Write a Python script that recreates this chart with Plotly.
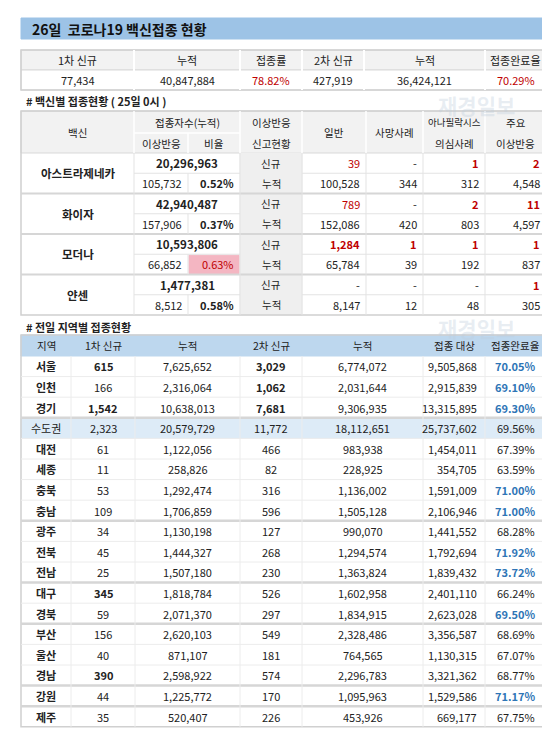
import plotly.graph_objects as go

# ---------------- data ----------------
title_text = "26일  코로나19 백신접종 현황"
top_headers = ["1차 신규", "누적", "접종률", "2차 신규", "누적", "접종완료율"]
top_values = ["77,434", "40,847,884", "78.82%", "427,919", "36,424,121", "70.29%"]

vac_section = "# 백신별 접종현황 ( 25일 0시 )"
vaccines = ["아스트라제네카", "화이자", "모더나", "얀센"]
vac_total = ["20,296,963", "42,940,487", "10,593,806", "1,477,381"]
vac_adverse = ["105,732", "157,906", "66,852", "8,512"]
vac_ratio = ["0.52%", "0.37%", "0.63%", "0.58%"]
new_general = ["39", "789", "1,284", "-"]
new_death = ["-", "-", "1", "-"]
new_anaph = ["1", "2", "1", "-"]
new_major = ["2", "11", "1", "1"]
cum_general = ["100,528", "152,086", "65,784", "8,147"]
cum_death = ["344", "420", "39", "12"]
cum_anaph = ["312", "803", "192", "48"]
cum_major = ["4,548", "4,597", "837", "305"]

reg_section = "# 전일 지역별 접종현황"
reg_headers = ["지역", "1차 신규", "누적", "2차 신규", "누적", "접종 대상", "접종완료율"]
regions = ["서울", "인천", "경기", "수도권", "대전", "세종", "충북", "충남", "광주", "전북",
           "전남", "대구", "경북", "부산", "울산", "경남", "강원", "제주"]
reg_first = ["615", "166", "1,542", "2,323", "61", "11", "53", "109", "34", "45", "25",
             "345", "59", "156", "40", "390", "44", "35"]
reg_first_cum = ["7,625,652", "2,316,064", "10,638,013", "20,579,729", "1,122,056", "258,826",
                 "1,292,474", "1,706,859", "1,130,198", "1,444,327", "1,507,180", "1,818,784",
                 "2,071,370", "2,620,103", "871,107", "2,598,922", "1,225,772", "520,407"]
reg_second = ["3,029", "1,062", "7,681", "11,772", "466", "82", "316", "596", "127", "268",
              "230", "526", "297", "549", "181", "574", "170", "226"]
reg_second_cum = ["6,774,072", "2,031,644", "9,306,935", "18,112,651", "983,938", "228,925",
                  "1,136,002", "1,505,128", "990,070", "1,294,574", "1,363,824", "1,602,958",
                  "1,834,915", "2,328,486", "764,565", "2,296,783", "1,095,963", "453,926"]
reg_target = ["9,505,868", "2,915,839", "13,315,895", "25,737,602", "1,454,011", "354,705",
              "1,591,009", "2,106,946", "1,441,552", "1,792,694", "1,839,432", "2,401,110",
              "2,623,028", "3,356,587", "1,130,315", "3,321,362", "1,529,586", "669,177"]
reg_rate = ["70.05%", "69.10%", "69.30%", "69.56%", "67.39%", "63.59%", "71.00%", "71.00%",
            "68.28%", "71.92%", "73.72%", "66.24%", "69.50%", "68.69%", "67.07%", "68.77%",
            "71.17%", "67.75%"]
bold_first = {"서울", "경기", "대구", "경남"}
bold_second = {"서울", "인천", "경기"}
group_breaks = ["경기", "충남", "전남", "경북", "경남", "강원"]

# ---------------- drawing ----------------
RED = "#C00000"
BLUE = "#2E75B6"
FONT = "Noto Sans CJK KR"
FS = 11
HS = 10.5
shapes = []
ann = []

def rect(x0, y0, x1, y1, fill=None, line="#D9D9D9", w=1):
    shapes.append(dict(type="rect", xref="x", yref="y", x0=x0, y0=y0, x1=x1, y1=y1,
                       fillcolor=fill or "rgba(0,0,0,0)", line=dict(color=line, width=w), layer="below"))

def hline(x0, x1, y, color="#D9D9D9", w=1):
    shapes.append(dict(type="line", xref="x", yref="y", x0=x0, x1=x1, y0=y, y1=y,
                       line=dict(color=color, width=w)))

def vline(x, y0, y1, color="#D9D9D9", w=1):
    shapes.append(dict(type="line", xref="x", yref="y", x0=x, x1=x, y0=y0, y1=y1,
                       line=dict(color=color, width=w)))

def text(x, y, s, size=FS, color="#222", bold=False, anchor="center"):
    if bold:
        s = "<b>" + s + "</b>"
    ann.append(dict(x=x, y=y, xref="x", yref="y", text=s, showarrow=False, xanchor=anchor,
                    yanchor="middle", font=dict(family=FONT, size=size, color=color)))

L, R = 13, 538

# watermark (drawn first so it sits behind)
for wy in (97, 320):
    ann.append(dict(x=468, y=wy, xref="x", yref="y", text="<b>재경일보</b>", showarrow=False,
                    font=dict(family=FONT, size=21, color="rgba(190,205,220,0.35)")))

# title
rect(L, 10, R, 31, fill="#9DC3E6", line="#9DC3E6")
text(22, 20.5, "<b>" + title_text + "</b>", size=14, color="#111", anchor="left")

# top summary
tcols = [L, 126, 232, 294, 356, 477, R]
rect(L, 42, R, 62, fill="#F2F2F2")
rect(L, 62, R, 82, fill="white")
rect(L, 42, R, 82, line="#D0D0D0", w=1.5)
for i in range(6):
    cx = (tcols[i] + tcols[i + 1]) / 2
    text(cx, 52, top_headers[i], size=FS)
    red = "%" in top_values[i]
    text(cx, 72, top_values[i], size=FS, color=RED if red else "#222")
for x in tcols[1:-1]:
    vline(x, 42, 82, color="#FFFFFF", w=2)

# vaccine section
text(16, 92.5, "<b>" + vac_section + "</b>", size=11, anchor="left")
vcols = [L, 126, 180, 232, 294, 358, 415, 477, R]
hy0, hm, hy1 = 103, 125, 145
rect(L, hy0, R, hy1, fill="#F2F2F2")
c1, c2 = (hy0 + hm) / 2, (hm + hy1) / 2
text(69.5, (hy0 + hy1) / 2, "백신", size=HS)
text(179, c1, "접종자수(누적)", size=HS)
text(153, c2, "이상반응", size=HS)
text(206, c2, "비율", size=HS)
text(263, c1, "이상반응", size=HS)
text(263, c2, "신고현황", size=HS)
text(326, (hy0 + hy1) / 2, "일반", size=HS)
text(386.5, (hy0 + hy1) / 2, "사망사례", size=HS)
text(446, c1, "아나필락시스", size=9.5)
text(446, c2, "의심사례", size=HS)
text(507.5, c1, "주요", size=HS)
text(507.5, c2, "이상반응", size=HS)
hline(126, 232, hm, color="#FFFFFF", w=1.5)
for x in vcols[1:-1]:
    if x != 180:
        vline(x, hy0, hy1, color="#FFFFFF", w=1.5)
vline(180, hm, hy1, color="#FFFFFF", w=1.5)

rh = 20.25
y0 = hy1
rect(232, y0, 294, y0 + 8 * rh, fill="#EFEFEF", line="#EFEFEF")
for i, v in enumerate(vaccines):
    ya = y0 + 2 * i * rh
    yb = ya + rh
    text(69.5, ya + rh, v, size=11.5, bold=True)
    text(179, ya + rh / 2, vac_total[i], size=11.5, bold=True)
    text(176, yb + rh / 2, vac_adverse[i], size=FS, anchor="right")
    if i == 2:
        rect(181, yb + 1, 231, yb + rh - 1, fill="#F4B6C2", line="#F4B6C2")
        text(228, yb + rh / 2, vac_ratio[i], size=FS, color=RED, anchor="right")
    else:
        text(228, yb + rh / 2, vac_ratio[i], size=FS, bold=True, anchor="right")
    text(263, ya + rh / 2, "신규", size=HS)
    text(263, yb + rh / 2, "누적", size=HS)
    news = [new_general[i], new_death[i], new_anaph[i], new_major[i]]
    cums = [cum_general[i], cum_death[i], cum_anaph[i], cum_major[i]]
    for j in range(4):
        xr = vcols[5 + j] - 4
        nv = news[j]
        isdash = nv == "-"
        b = (not isdash) and not (j == 0 and i < 2)
        text(xr, ya + rh / 2, nv, size=FS, color="#222" if isdash else RED, bold=b, anchor="right")
        text(xr, yb + rh / 2, cums[j], size=FS, anchor="right")
    hline(126, 232, yb, color="#E3E3E3")
    hline(294, R, yb, color="#E3E3E3")
    if i < 3:
        hline(L, R, ya + 2 * rh, color="#D6D6D6", w=2)
    vline(180, yb, ya + 2 * rh, color="#E3E3E3")
for x in [126, 232, 294, 358, 415, 477]:
    vline(x, y0, y0 + 8 * rh, color="#E3E3E3")
rect(L, hy0, R, y0 + 8 * rh, line="#D0D0D0", w=1.5)

# regional section
text(16, 318.5, "<b>" + reg_section + "</b>", size=11, anchor="left")
rcols = [L, 63, 127, 232, 294, 415, 477, R]
gy0, gy1 = 327, 348
rect(L, gy0, R, gy1, fill="#BDD7EE", line="#BDD7EE")
for i, h in enumerate(reg_headers):
    text((rcols[i] + rcols[i + 1]) / 2, (gy0 + gy1) / 2, h, size=HS)
rrh = 20.6
ry = gy1
for i, r in enumerate(regions):
    ya = ry + i * rrh
    cy = ya + rrh / 2
    if r == "수도권":
        rect(L, ya, R, ya + rrh, fill="#DDEBF7", line="#DDEBF7")
    vals = [r, reg_first[i], reg_first_cum[i], reg_second[i], reg_second_cum[i], reg_target[i], reg_rate[i]]
    for j, v in enumerate(vals):
        cx = (rcols[j] + rcols[j + 1]) / 2
        b = False
        col = "#222"
        if j == 0:
            b = r != "수도권"
        elif j == 1:
            b = r in bold_first
        elif j == 3:
            b = r in bold_second
        elif j == 6 and r != "수도권" and float(v[:-1]) >= 69.0:
            b = True
            col = BLUE
        if j == 5:
            text(rcols[6] - 6, cy, v, size=FS, anchor="right")
        else:
            text(cx, cy, v, size=FS, color=col, bold=b)
    if i < len(regions) - 1:
        if r in group_breaks:
            hline(L, R, ya + rrh, color="#D6D6D6", w=2.5)
        else:
            hline(L, R, ya + rrh, color="#ECECEC")
for x in rcols[1:-1]:
    vline(x, gy1, ry + len(regions) * rrh, color="#ECECEC")
rect(L, gy0, R, ry + len(regions) * rrh, line="#D0D0D0", w=1.5)

fig = go.Figure()
fig.add_trace(go.Scatter(x=[0, 550], y=[0, 731], mode="markers", marker=dict(opacity=0), hoverinfo="skip"))
fig.update_layout(
    width=550, height=731, margin=dict(l=0, r=0, t=0, b=0),
    paper_bgcolor="white", plot_bgcolor="white", showlegend=False,
    xaxis=dict(range=[0, 550], visible=False, fixedrange=True),
    yaxis=dict(range=[731, 0], visible=False, fixedrange=True),
    shapes=shapes, annotations=ann,
)
fig.write_html("out.html")
